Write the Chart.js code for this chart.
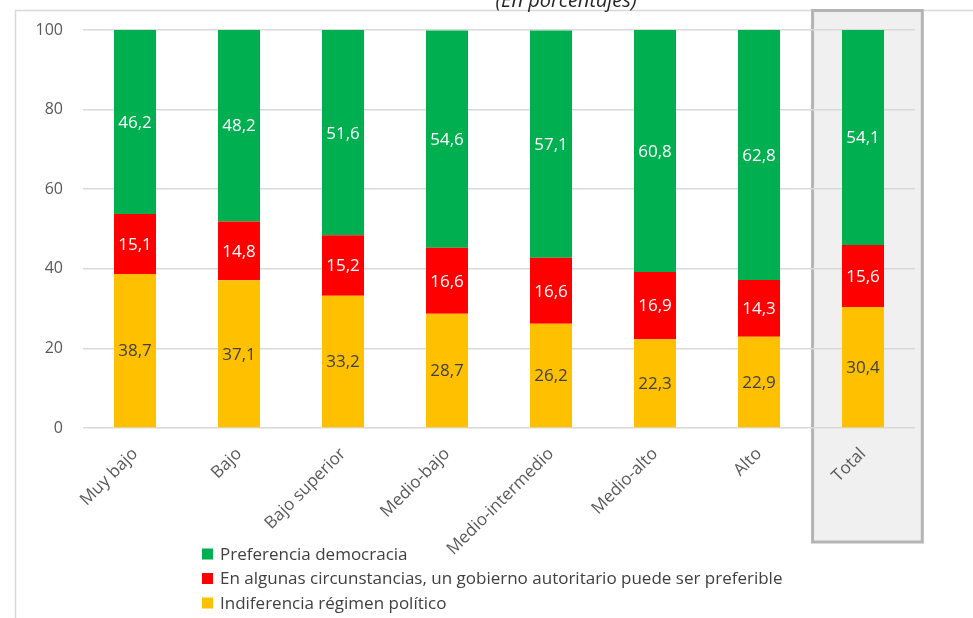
<!DOCTYPE html>
<html>
<head>
<meta charset="utf-8">
<script src="https://cdn.jsdelivr.net/npm/chart.js@4"></script>
<style>
  html, body { margin: 0; padding: 0; background: #fff; }
  #wrap { width: 973px; height: 618px; }
</style>
</head>
<body>
<div id="wrap"><canvas id="myChart" width="973" height="618"></canvas></div>
<script>
const categories = ['Muy bajo', 'Bajo', 'Bajo superior', 'Medio-bajo', 'Medio-intermedio', 'Medio-alto', 'Alto', 'Total'];
const democracia = [46.2, 48.2, 51.6, 54.6, 57.1, 60.8, 62.8, 54.1];
const autoritario = [15.1, 14.8, 15.2, 16.6, 16.6, 16.9, 14.3, 15.6];
const indiferencia = [38.7, 37.1, 33.2, 28.7, 26.2, 22.3, 22.9, 30.4];
const yTicks = [0, 20, 40, 60, 80, 100];
const titulo = '(En porcentajes)';

const FONT = "'Open Sans', sans-serif";
const ctx = document.getElementById('myChart');

// marco, recuadro del total y titulo
const fondo = {
  id: 'fondo',
  beforeDraw(chart) {
    const c = chart.ctx, a = chart.chartArea, xs = chart.scales.x;
    c.save();
    c.strokeStyle = '#d9d9d9';
    c.lineWidth = 1.5;
    c.strokeRect(15.5, 10.5, 1000, 700);
    // recuadro gris de la columna Total
    const cw = xs.width / categories.length;
    const cx = xs.getPixelForValue(categories.length - 1);
    const l = cx - 0.485 * cw, r = cx + 0.57 * cw;
    const t = a.top - 19.5, b = a.bottom + 114;
    c.fillStyle = '#f0f0f0';
    c.fillRect(l, t, r - l, b - t);
    c.strokeStyle = '#b4b4b4';
    c.lineWidth = 3;
    c.strokeRect(l, t, r - l, b - t);
    // titulo cortado arriba
    c.fillStyle = '#262626';
    c.font = "italic 20px " + FONT;
    c.textAlign = 'center';
    c.textBaseline = 'alphabetic';
    c.fillText(titulo, 566, 7);
    c.restore();
  }
};

// etiquetas de valor dentro de cada segmento
const etiquetas = {
  id: 'etiquetas',
  afterDatasetsDraw(chart) {
    const c = chart.ctx;
    c.save();
    c.font = "17px " + FONT;
    c.textAlign = 'center';
    c.textBaseline = 'middle';
    chart.data.datasets.forEach((ds, i) => {
      chart.getDatasetMeta(i).data.forEach((bar, j) => {
        const p = bar.getProps(['x', 'y', 'base'], true);
        c.fillStyle = ds.labelColor;
        c.fillText(ds.data[j].toFixed(1).replace('.', ','), p.x, (p.y + p.base) / 2 + 1);
      });
    });
    c.restore();
  }
};

// leyenda vertical abajo a la izquierda (orden inverso al apilado)
const leyenda = {
  id: 'leyenda',
  afterDraw(chart) {
    const c = chart.ctx;
    c.save();
    c.font = "17px " + FONT;
    c.textBaseline = 'middle';
    const items = chart.data.datasets.slice().reverse();
    items.forEach((ds, i) => {
      const y = 554 + i * 24.5;
      c.fillStyle = ds.backgroundColor;
      c.fillRect(202, y - 5.5, 11, 11);
      c.fillStyle = '#404040';
      c.fillText(ds.label, 220, y + 1);
    });
    c.restore();
  }
};

new Chart(ctx, {
  type: 'bar',
  data: {
    labels: categories,
    datasets: [
      { label: 'Indiferencia régimen político', data: indiferencia, backgroundColor: '#FFC000', labelColor: '#404040' },
      { label: 'En algunas circunstancias, un gobierno autoritario puede ser preferible', data: autoritario, backgroundColor: '#FF0000', labelColor: '#ffffff' },
      { label: 'Preferencia democracia', data: democracia, backgroundColor: '#00B050', labelColor: '#ffffff' }
    ]
  },
  options: {
    responsive: false,
    animation: false,
    devicePixelRatio: 1,
    datasets: { bar: { categoryPercentage: 1, barPercentage: 0.404, borderWidth: 0 } },
    layout: { padding: { top: 30, right: 58, left: 0, bottom: 0 } },
    plugins: { legend: { display: false }, title: { display: false }, tooltip: { enabled: false } },
    scales: {
      x: {
        stacked: true,
        grid: { display: false },
        border: { display: false },
        ticks: { color: '#595959', font: { family: FONT, size: 17 }, minRotation: 45, maxRotation: 45, padding: 8 },
        afterFit(scale) { scale.height = 190; }
      },
      y: {
        stacked: true,
        min: 0, max: 100,
        afterBuildTicks(scale) { scale.ticks = yTicks.map(v => ({ value: v })); },
        grid: { color: '#d9d9d9', lineWidth: 1.5, drawTicks: false },
        border: { display: false },
        ticks: { color: '#595959', font: { family: FONT, size: 16 }, padding: 20 },
        afterFit(scale) { scale.width = 83; }
      }
    }
  },
  plugins: [fondo, etiquetas, leyenda]
});
</script>
</body>
</html>
